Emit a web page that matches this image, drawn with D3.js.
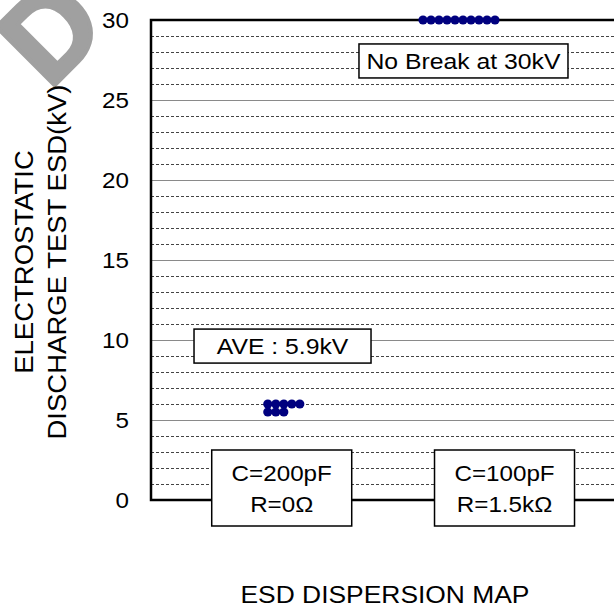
<!DOCTYPE html>
<html>
<head>
<meta charset="utf-8">
<script src="https://cdn.jsdelivr.net/npm/d3@7"></script>
<style>
  body { margin: 0; background: #fff; }
  svg { display: block; }
</style>
</head>
<body>
<svg></svg>
<script>
// chart data
const yTicks = [0, 5, 10, 15, 20, 25, 30];
const yMinorTicks = d3.range(1, 30).filter(v => v % 5 !== 0);
const categoryLines = [["C=200pF", "R=0Ω"], ["C=100pF", "R=1.5kΩ"]];
const categoryPos = [16.34, 44.19];        // category centre, in sample-slot units
const group1Values = [6.0, 6.0, 6.0, 6.0, 6.0, 5.5, 5.5, 5.5];
const group1Slots  = [14.6, 15.6, 16.6, 17.6, 18.6, 14.6, 15.6, 16.6];
const group2Values = [30, 30, 30, 30, 30, 30, 30, 30, 30, 30];
const group2Slots  = [34, 35, 36, 37, 38, 39, 40, 41, 42, 43];
const noteTexts  = ["AVE : 5.9kV", "No Break at 30kV"];
const noteSlots  = [16.44, 39.06];
const noteValues = [9.62, 27.44];

const width = 614, height = 609;
const svg = d3.select('svg').attr('width', width).attr('height', height);

const plot = { left: 151, top: 20, right: 640, bottom: 500 };

const x = d3.scaleLinear().domain([0, 60]).range([plot.left, plot.left + 480]);
const y = d3.scaleLinear().domain([0, 30]).range([plot.bottom, plot.top]);

const font = 'Arial, "Liberation Sans", sans-serif';
const wide = 1.1; // the original type is set a bit wider than Arial

// widen glyphs horizontally
function stretch(sel) {
    sel.each(function() {
        const w = this.getComputedTextLength();
        d3.select(this).attr('textLength', w * wide).attr('lengthAdjust', 'spacingAndGlyphs');
    });
}

// watermark
svg.append('text')
    .attr('transform', 'translate(49,91) rotate(-45)')
    .attr('fill', '#a0a0a0')
    .attr('stroke', '#a0a0a0')
    .attr('stroke-width', 4)
    .attr('stroke-linejoin', 'round')
    .style('font-family', font)
    .style('font-weight', 'bold')
    .style('font-size', '120px')
    .text('D');

// minor dashed grid
svg.append('g').selectAll('line')
    .data(yMinorTicks)
    .enter().append('line')
    .attr('x1', plot.left).attr('x2', plot.right)
    .attr('y1', d => y(d) + 0.5).attr('y2', d => y(d) + 0.5)
    .attr('stroke', '#444')
    .attr('stroke-width', 1)
    .attr('stroke-dasharray', '3,2');

// major grid
svg.append('g').selectAll('line')
    .data(yTicks.filter(d => d > 0 && d < 30))
    .enter().append('line')
    .attr('x1', plot.left).attr('x2', plot.right)
    .attr('y1', d => y(d) + 0.5).attr('y2', d => y(d) + 0.5)
    .attr('stroke', '#8a8a8a')
    .attr('stroke-width', 1.2);

// frame
svg.append('path')
    .attr('d', `M${plot.right},${plot.top}H${plot.left}V${plot.bottom}H${plot.right}`)
    .attr('fill', 'none')
    .attr('stroke', '#000')
    .attr('stroke-width', 2.5);

// y axis labels
const yAxis = d3.axisLeft(y).tickValues(yTicks).tickSize(0).tickPadding(22);
const ya = svg.append('g').attr('transform', `translate(${plot.left},0)`).call(yAxis);
ya.select('.domain').remove();
ya.selectAll('text')
    .style('font-family', font)
    .style('font-size', '22px')
    .attr('fill', '#000')
    .call(stretch);

// y title
const yt = svg.append('text')
    .attr('transform', 'translate(0,262) rotate(-90)')
    .attr('text-anchor', 'middle')
    .style('font-family', font)
    .style('font-size', '25px');
yt.append('tspan').attr('x', 0).attr('y', 33).text('ELECTROSTATIC');
yt.append('tspan').attr('x', 0).attr('y', 66).text('DISCHARGE TEST ESD(kV)');
yt.selectAll('tspan').call(stretch);

// bottom title
svg.append('text')
    .attr('x', 385).attr('y', 602.5)
    .attr('text-anchor', 'middle')
    .style('font-family', font)
    .style('font-size', '24px')
    .text('ESD DISPERSION MAP')
    .call(stretch);

// category boxes
const cat = svg.append('g').selectAll('g')
    .data(categoryLines)
    .enter().append('g')
    .attr('transform', (d, i) => `translate(${x(categoryPos[i])},488)`);
cat.append('rect')
    .attr('x', -70).attr('y', -38).attr('width', 140).attr('height', 76)
    .attr('fill', '#fff').attr('stroke', '#000').attr('stroke-width', 1.5);
cat.append('text')
    .attr('text-anchor', 'middle')
    .style('font-family', font)
    .style('font-size', '22px')
    .selectAll('tspan')
    .data(d => d)
    .enter().append('tspan')
    .attr('x', 0)
    .attr('y', (d, i) => i === 0 ? -7.5 : 23.5)
    .text(d => d)
    .call(stretch);

// note boxes
const noteBoxW = [177, 209];
const note = svg.append('g').selectAll('g')
    .data(noteTexts)
    .enter().append('g')
    .attr('transform', (d, i) => `translate(${x(noteSlots[i])},${y(noteValues[i])})`);
note.append('rect')
    .attr('x', (d, i) => -noteBoxW[i] / 2)
    .attr('y', -17)
    .attr('width', (d, i) => noteBoxW[i])
    .attr('height', 34)
    .attr('fill', '#fff').attr('stroke', '#000').attr('stroke-width', 1.5);
note.append('text')
    .attr('y', 8)
    .attr('text-anchor', 'middle')
    .style('font-family', font)
    .style('font-size', '22.5px')
    .text(d => d)
    .call(stretch);

// dots
const points = group1Values.map((v, i) => ({ v, s: group1Slots[i] }))
    .concat(group2Values.map((v, i) => ({ v, s: group2Slots[i] })));
svg.append('g').selectAll('circle')
    .data(points)
    .enter().append('circle')
    .attr('cx', d => x(d.s))
    .attr('cy', d => y(d.v))
    .attr('r', 4.6)
    .attr('fill', '#00007f');
</script>
</body>
</html>
